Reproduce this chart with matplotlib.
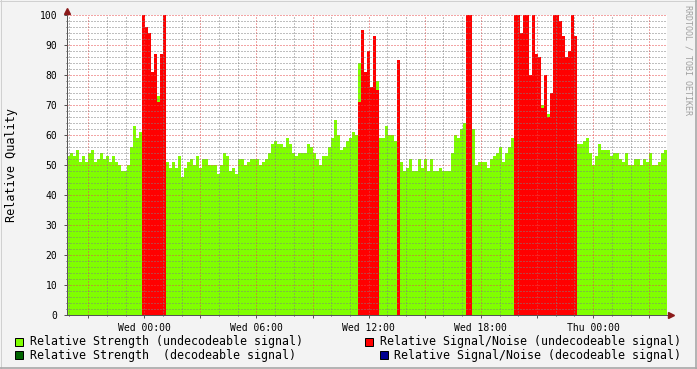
import numpy as np
import matplotlib.pyplot as plt
from matplotlib.patches import Rectangle
from matplotlib.lines import Line2D
from matplotlib.ticker import MultipleLocator, FuncFormatter

plt.rcParams['font.family'] = 'DejaVu Sans Mono'

# time axis: hours from Wed 00:00, one value per step
t_start = -4.13
t_step = 0.1604

# relative strength (undecodeable signal)
strength_undec = [
    53, 54, 53, 55, 51, 53, 51, 54, 55, 51, 52, 54, 52, 53, 51, 53, 51, 50, 48, 48,
    50, 56, 63, 59, 61, 61, 60, 60, 60, 60, 73, 60, 60, 51, 49, 51, 49, 53, 46, 49,
    51, 52, 50, 53, 49, 52, 52, 50, 50, 50, 47, 50, 54, 53, 48, 49, 47, 52, 52, 50,
    51, 52, 52, 52, 50, 51, 52, 54, 57, 58, 57, 57, 56, 59, 57, 54, 53, 54, 54, 54,
    57, 56, 54, 52, 50, 53, 53, 56, 59, 65, 60, 55, 56, 58, 59, 61, 60, 84, 60, 60,
    60, 73, 60, 78, 59, 59, 63, 60, 60, 58, 59, 51, 48, 49, 52, 48, 48, 52, 49, 52,
    48, 52, 48, 48, 49, 48, 48, 48, 54, 60, 59, 62, 64, 64, 64, 62, 50, 51, 51, 51,
    49, 52, 53, 54, 56, 51, 54, 56, 59, 60, 60, 60, 60, 60, 60, 60, 60, 60, 70, 60,
    67, 60, 60, 60, 60, 60, 60, 60, 60, 60, 57, 57, 58, 59, 54, 50, 53, 57, 55, 55,
    55, 53, 54, 54, 52, 51, 54, 50, 50, 52, 52, 50, 52, 51, 54, 50, 50, 51, 54, 55,
]

# relative signal/noise (undecodeable signal)
snr_undec = [
    0, 0, 0, 0, 0, 0, 0, 0, 0, 0, 0, 0, 0, 0, 0, 0, 0, 0, 0, 0,
    0, 0, 0, 0, 0, 100, 96, 94, 81, 87, 71, 87, 100, 0, 0, 0, 0, 0, 0, 0,
    0, 0, 0, 0, 0, 0, 0, 0, 0, 0, 0, 0, 0, 0, 0, 0, 0, 0, 0, 0,
    0, 0, 0, 0, 0, 0, 0, 0, 0, 0, 0, 0, 0, 0, 0, 0, 0, 0, 0, 0,
    0, 0, 0, 0, 0, 0, 0, 0, 0, 0, 0, 0, 0, 0, 0, 0, 0, 71, 95, 81,
    88, 76, 93, 75, 0, 0, 0, 0, 0, 0, 85, 0, 0, 0, 0, 0, 0, 0, 0, 0,
    0, 0, 0, 0, 0, 0, 0, 0, 0, 0, 0, 0, 0, 100, 100, 0, 0, 0, 0, 0,
    0, 0, 0, 0, 0, 0, 0, 0, 0, 100, 100, 94, 100, 100, 80, 100, 87, 86, 69, 80,
    66, 74, 100, 100, 98, 93, 86, 88, 100, 93, 0, 0, 0, 0, 0, 0, 0, 0, 0, 0,
    0, 0, 0, 0, 0, 0, 0, 0, 0, 0, 0, 0, 0, 0, 0, 0, 0, 0, 0, 0,
]

tick_hours = [0, 6, 12, 18, 24]
tick_labels = ['Wed 00:00', 'Wed 06:00', 'Wed 12:00', 'Wed 18:00', 'Thu 00:00']

legend_labels = ['Relative Strength (undecodeable signal)',
                 'Relative Strength  (decodeable signal)',
                 'Relative Signal/Noise (undecodeable signal)',
                 'Relative Signal/Noise (decodeable signal)']
legend_colors = ['#80FF00', '#006400', '#FF0000', '#000090']

W, H = 697, 369
fig = plt.figure(figsize=(W / 100, H / 100), dpi=100, facecolor='#F3F3F3')
ax = fig.add_axes([67 / W, 54 / H, 600 / W, 300 / H])
ax.set_facecolor('white')

edges = t_start + t_step * np.arange(len(strength_undec) + 1)
ax.stairs(strength_undec, edges, fill=True, color=legend_colors[0], lw=0, zorder=1)
ax.stairs(snr_undec, edges, fill=True, color=legend_colors[2], lw=0, zorder=1.1)

ax.set_xlim(edges[0], edges[-1])
ax.set_ylim(0, 100)

ax.xaxis.set_major_locator(MultipleLocator(3))
ax.xaxis.set_minor_locator(MultipleLocator(1))
ax.yaxis.set_major_locator(MultipleLocator(10))
ax.yaxis.set_minor_locator(MultipleLocator(2))
lab = dict(zip(tick_hours, tick_labels))
ax.xaxis.set_major_formatter(FuncFormatter(lambda v, p: lab.get(int(round(v)), '')))
ax.yaxis.set_major_formatter(FuncFormatter(lambda v, p: '%d' % v))

ax.set_axisbelow(False)
ax.grid(which='major', color=(0.9, 0.3, 0.3, 0.35), linestyle=(0, (1, 2)), lw=0.72)
ax.grid(which='minor', color=(0.5, 0.5, 0.5, 0.25), linestyle=(0, (1, 2)), lw=0.72)

axis_col = '#555555'
ax.tick_params(which='major', length=2, width=0.72, color=axis_col, labelsize=7, pad=4)
ax.tick_params(which='minor', length=1, width=0.72, color=axis_col)
ax.tick_params(axis='y', which='major', pad=5)
for s in ['top', 'right']:
    ax.spines[s].set_visible(False)
for s in ['left', 'bottom']:
    ax.spines[s].set_color(axis_col)
    ax.spines[s].set_linewidth(0.72)

# axis arrows
ax.plot([0, 0], [1, 1.01], transform=ax.transAxes, color=axis_col, lw=0.72, clip_on=False)
ax.plot([1, 1.006], [0, 0], transform=ax.transAxes, color=axis_col, lw=0.72, clip_on=False)
ax.plot([0], [1.0127], marker='^', ms=4, color='#8B1A1A', transform=ax.transAxes, clip_on=False)
ax.plot([1.0067], [0], marker='>', ms=4, color='#8B1A1A', transform=ax.transAxes, clip_on=False)

fig.text(12 / W, 1 - 165 / H, 'Relative Quality', rotation=90, ha='center', va='center', fontsize=8.5)
fig.text(688 / W, 1 - 60 / H, 'RRDTOOL / TOBI OETIKER', rotation=270, ha='center', va='center',
         fontsize=6, color='#A0A0A0')

# legend
legend_pos = [(15, 345.5), (15, 359), (365, 345.5), (379.5, 359)]
for (x, yb), txt, c in zip(legend_pos, legend_labels, legend_colors):
    fig.add_artist(Rectangle((x / W, 1 - yb / H), 8 / W, 8 / H, transform=fig.transFigure,
                             facecolor=c, edgecolor='black', lw=0.72))
    fig.text((x + 15) / W, 1 - yb / H, txt, ha='left', va='baseline', fontsize=8.4)

# frame
fig.add_artist(Line2D([0, 1], [1 - 0.5 / H, 1 - 0.5 / H], transform=fig.transFigure, color='#D0D0D0', lw=0.72))
fig.add_artist(Line2D([0.5 / W, 0.5 / W], [0, 1], transform=fig.transFigure, color='#D0D0D0', lw=0.72))
fig.add_artist(Line2D([0, 1], [1 / H, 1 / H], transform=fig.transFigure, color='#A8A8A8', lw=1.2))
fig.add_artist(Line2D([1 - 1 / W, 1 - 1 / W], [0, 1], transform=fig.transFigure, color='#A8A8A8', lw=1.2))

fig.savefig('out.png', dpi=100, facecolor=fig.get_facecolor())
